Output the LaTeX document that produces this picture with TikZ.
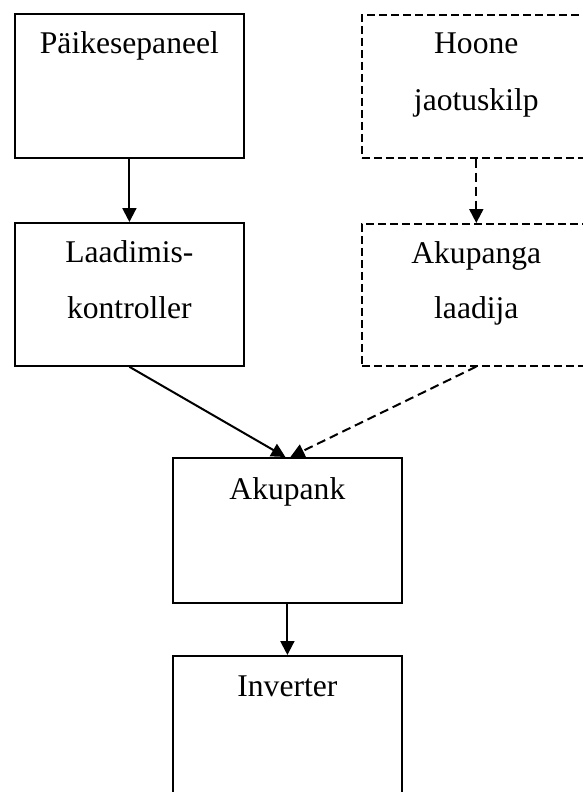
\documentclass[tikz,border=0pt]{standalone}
\usepackage{fontspec}
\setmainfont{Liberation Serif}
\usetikzlibrary{arrows.meta}
\tikzset{
  box/.style={draw, line width=1.8pt, minimum width=229pt, inner sep=0pt, anchor=north west},
  dbox/.style={box, line width=1.6pt, dash pattern=on 8pt off 4pt},
  txt/.style={anchor=base, inner sep=0pt, font=\fontsize{31.6pt}{38pt}\selectfont},
  arr/.style={line width=2pt, -{Triangle[length=14pt,width=14pt]}},
  darr/.style={arr, dash pattern=on 9pt off 5pt}
}
\begin{document}
\begin{tikzpicture}[x=1pt,y=1pt]
\useasboundingbox (0,0) rectangle (582,-792);
\node[box, minimum height=144pt] (b1) at (14,-13) {};
\node[dbox, minimum height=143pt] (b2) at (361,-14) {};
\node[box, minimum height=143pt] (b3) at (14,-222) {};
\node[dbox, minimum height=142pt] (b4) at (361,-223) {};
\node[box, minimum height=145pt] (b5) at (172,-457) {};
\node[box, minimum height=145pt] (b6) at (172,-655) {};

\node[txt] (t1) at ([yshift=-41pt]b1.north) {Päikesepaneel};
\node[txt] (t2a) at ([yshift=-40pt]b2.north) {Hoone};
\node[txt] (t2b) at ([yshift=-96pt]b2.north) {jaotuskilp};
\node[txt] (t3a) at ([yshift=-40pt]b3.north) {Laadimis-};
\node[txt] (t3b) at ([yshift=-96pt]b3.north) {kontroller};
\node[txt] (t4a) at ([yshift=-40pt]b4.north) {Akupanga};
\node[txt] (t4b) at ([yshift=-95pt]b4.north) {laadija};
\node[txt] (t5) at ([yshift=-42pt]b5.north) {Akupank};
\node[txt] (t6) at ([yshift=-41pt]b6.north) {Inverter};

\coordinate (e1) at ([xshift=-2pt]b5.north);
\coordinate (e2) at ([xshift=3pt]b5.north);

\draw[arr] (b1.south) -- (b3.north);
\draw[darr] (b2.south) -- (b4.north);
\draw[arr] (b3.south) -- (e1);
\draw[darr] (b4.south) -- (e2);
\draw[arr] (b5.south) -- (b6.north);
\end{tikzpicture}
\end{document}
